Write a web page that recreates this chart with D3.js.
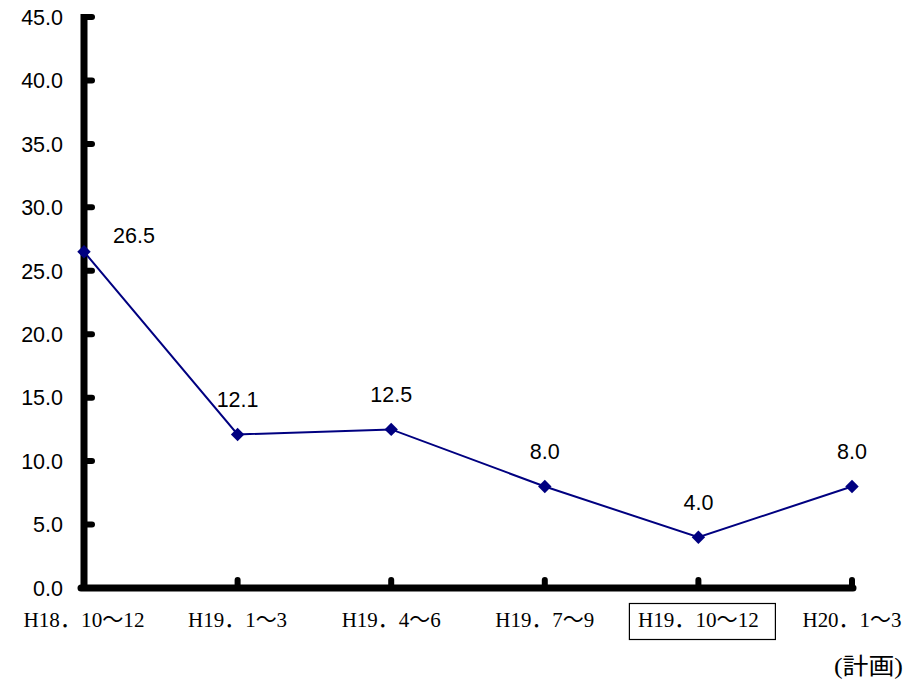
<!DOCTYPE html>
<html>
<head>
<meta charset="utf-8">
<script src="https://cdn.jsdelivr.net/npm/d3@7/dist/d3.min.js"></script>
<style>
html,body{margin:0;padding:0;background:#fff;}
svg{display:block;}
</style>
</head>
<body>
<svg id="chart" width="912" height="684"></svg>
<script>
const categories = ["H18．10～12","H19．1～3","H19．4～6","H19．7～9","H19．10～12","H20．1～3"];
const values = [26.5, 12.1, 12.5, 8.0, 4.0, 8.0];
const yTicks = [0,5,10,15,20,25,30,35,40,45];
const boxedCategory = "H19．10～12";
const noteText = "(計画)";

const svg = d3.select("#chart");
const x0 = 84, x1 = 852, yTop = 17, yBot = 588;

const x = d3.scalePoint().domain(categories).range([x0, x1]);
const y = d3.scaleLinear().domain([0, 45]).range([yBot, yTop]);

// y axis
const yAxis = svg.append("g");
yAxis.append("line").attr("x1", x0).attr("x2", x0).attr("y1", yTop - 3).attr("y2", yBot + 3)
  .attr("stroke", "#000").attr("stroke-width", 7);
yAxis.selectAll("line.tick").data(yTicks.slice(1)).enter().append("line")
  .attr("class","tick")
  .attr("x1", x0).attr("x2", x0 + 8).attr("y1", d => y(d)).attr("y2", d => y(d))
  .attr("stroke", "#000").attr("stroke-width", 6).attr("stroke-linecap", "round");
yAxis.selectAll("text").data(yTicks).enter().append("text")
  .attr("x", 63).attr("y", d => y(d)).attr("dy", "0.36em")
  .attr("text-anchor", "end")
  .attr("font-family", "'Liberation Sans', Arial, sans-serif")
  .attr("font-size", 21.5)
  .text(d => d3.format(".1f")(d));

// x axis
const xAxis = svg.append("g");
xAxis.append("line").attr("x1", x0 - 3).attr("x2", x1 + 1).attr("y1", yBot).attr("y2", yBot)
  .attr("stroke", "#000").attr("stroke-width", 7).attr("stroke-linecap", "round");
xAxis.selectAll("line.tick").data(categories.slice(1)).enter().append("line")
  .attr("class","tick")
  .attr("x1", d => x(d)).attr("x2", d => x(d)).attr("y1", yBot).attr("y2", yBot - 8)
  .attr("stroke", "#000").attr("stroke-width", 6).attr("stroke-linecap", "round");

function emWidth(s){
  let w = 0;
  for (const ch of s) w += (ch.charCodeAt(0) > 255) ? 1 : 0.5;
  return w;
}
const xfs = 22;
xAxis.selectAll("text").data(categories).enter().append("text")
  .attr("x", d => x(d)).attr("y", 627)
  .attr("text-anchor", "middle")
  .attr("font-family", "'Liberation Serif', 'Noto Sans CJK JP', serif")
  .attr("font-size", xfs)
  .attr("textLength", d => emWidth(d) * xfs)
  .attr("lengthAdjust", "spacingAndGlyphs")
  .text(d => d);

// box around boxed category
const bx = x(boxedCategory);
svg.append("rect")
  .attr("x", bx - 69).attr("y", 603.5).attr("width", 146).attr("height", 36)
  .attr("fill", "none").attr("stroke", "#000").attr("stroke-width", 1.2);

// note
const nfs = 23;
svg.append("text")
  .attr("x", 834).attr("y", 674).attr("text-anchor", "start")
  .attr("font-family", "'Liberation Serif', 'Noto Sans CJK JP', serif")
  .attr("font-size", nfs)
  .attr("textLength", emWidth(noteText) * nfs)
  .attr("lengthAdjust", "spacingAndGlyphs")
  .text(noteText);

// line
const data = categories.map((c, i) => ({c, v: values[i]}));
svg.append("path").datum(data)
  .attr("d", d3.line().x(d => x(d.c)).y(d => y(d.v)))
  .attr("fill", "none").attr("stroke", "#000080").attr("stroke-width", 2);

// markers
svg.selectAll("path.marker").data(data).enter().append("path")
  .attr("class", "marker")
  .attr("d", d3.symbol().type(d3.symbolDiamond2).size(115))
  .attr("transform", d => `translate(${x(d.c)},${y(d.v)})`)
  .attr("fill", "#000080");

// value labels
svg.selectAll("text.val").data(data).enter().append("text")
  .attr("class", "val")
  .attr("x", (d, i) => i === 0 ? x(d.c) + 50 : x(d.c))
  .attr("y", (d, i) => i === 0 ? y(d.v) - 9 : y(d.v) - 27)
  .attr("text-anchor", "middle")
  .attr("font-family", "'Liberation Sans', Arial, sans-serif")
  .attr("font-size", 21.5)
  .text(d => d3.format(".1f")(d.v));
</script>
</body>
</html>
